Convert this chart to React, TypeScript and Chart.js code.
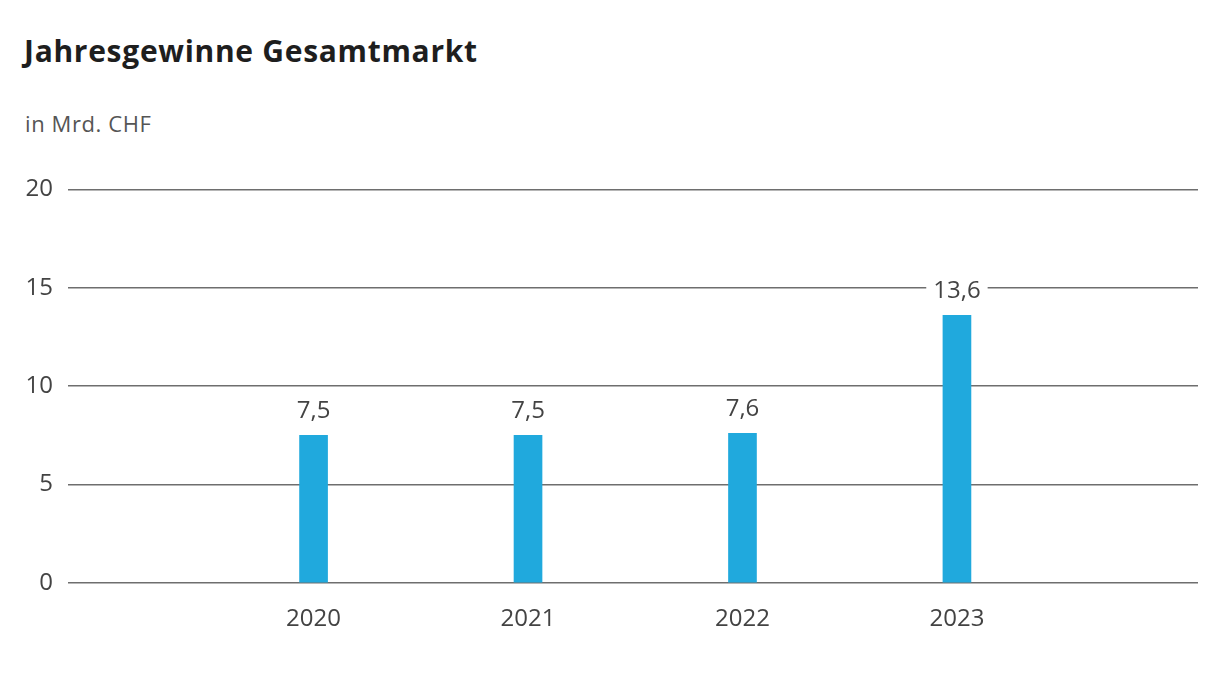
import * as React from 'react';
import { Chart, registerables } from 'chart.js';

Chart.register(...registerables);

// Jahresgewinne Gesamtmarkt, in Mrd. CHF
const years = [2020, 2021, 2022, 2023];
const gewinne = [7.5, 7.5, 7.6, 13.6];
const yTicks = [0, 5, 10, 15, 20];

const FONT = '"Open Sans", "Noto Sans", sans-serif';
const BAR_BLUE = '#20a9dd';
const TEXT_GREY = '#434343';

// schreibt die Werte über die Balken, mit weissem Hintergrund über dem Gitter
const valueLabels = {
    id: 'valueLabels',
    afterDatasetsDraw(chart: Chart) {
        const ctx = chart.ctx;
        const meta = chart.getDatasetMeta(0);
        ctx.save();
        ctx.font = '24px ' + FONT;
        ctx.textAlign = 'center';
        ctx.textBaseline = 'middle';
        meta.data.forEach((bar: any, i: number) => {
            const text = String(gewinne[i]).replace('.', ',');
            const w = ctx.measureText(text).width + 14;
            const y = bar.y - 24;
            ctx.fillStyle = '#ffffff';
            ctx.fillRect(bar.x - w / 2, y - 13, w, 26);
            ctx.fillStyle = TEXT_GREY;
            ctx.fillText(text, bar.x, y);
        });
        ctx.restore();
    },
};

function GewinnChart() {
    const canvasRef = React.useRef<HTMLCanvasElement | null>(null);

    React.useEffect(() => {
        if (!canvasRef.current) return;
        const chart = new Chart(canvasRef.current, {
            type: 'bar',
            data: {
                datasets: [
                    {
                        data: years.map((y, i) => ({ x: y, y: gewinne[i] })),
                        backgroundColor: BAR_BLUE,
                        barThickness: 28,
                    },
                ],
            },
            options: {
                animation: false,
                responsive: false,
                maintainAspectRatio: false,
                layout: { padding: { top: 29, right: 27, left: 0, bottom: 0 } },
                plugins: {
                    legend: { display: false },
                    tooltip: { enabled: false },
                },
                scales: {
                    x: {
                        type: 'linear',
                        offset: false,
                        min: 2018.855,
                        max: 2024.124,
                        afterBuildTicks: (scale: any) => {
                            scale.ticks = years.map((v) => ({ value: v }));
                        },
                        afterFit: (scale: any) => {
                            scale.height = 67;
                        },
                        grid: { display: false, offset: false },
                        border: { display: false },
                        ticks: {
                            autoSkip: false,
                            maxRotation: 0,
                            padding: 14,
                            color: TEXT_GREY,
                            font: { family: FONT, size: 24 },
                            callback: (v: any) => String(v),
                        },
                    },
                    y: {
                        min: 0,
                        max: 20,
                        afterBuildTicks: (scale: any) => {
                            scale.ticks = yTicks.map((v) => ({ value: v }));
                        },
                        afterFit: (scale: any) => {
                            scale.width = 68;
                        },
                        grid: {
                            color: '#6e6e6e',
                            lineWidth: 1.5,
                            drawTicks: false,
                        },
                        border: { display: false },
                        ticks: {
                            padding: 15,
                            color: TEXT_GREY,
                            font: { family: FONT, size: 24 },
                        },
                    },
                },
            },
            plugins: [valueLabels],
        });

        return () => {
            chart.destroy();
        };
    }, []);

    return (
        <canvas
            ref={canvasRef}
            width={1225}
            height={490}
            style={{ position: 'absolute', left: 0, top: 160, width: 1225, height: 490 }}
        />
    );
}

const App = () => {
    React.useEffect(() => {
        document.body.style.margin = '0';
    }, []);

    return (
        <div style={{ position: 'relative', width: 1225, height: 674, background: '#fff', fontFamily: FONT }}>
            <div
                style={{
                    position: 'absolute',
                    left: 24,
                    top: 36,
                    fontSize: 30,
                    lineHeight: '29px',
                    fontWeight: 700,
                    letterSpacing: 0.7,
                    color: '#1e1e1e',
                    whiteSpace: 'nowrap',
                }}
            >
                Jahresgewinne Gesamtmarkt
            </div>
            <div
                style={{
                    position: 'absolute',
                    left: 25,
                    top: 112,
                    fontSize: 22,
                    lineHeight: '22px',
                    letterSpacing: 0.6,
                    color: '#555555',
                    whiteSpace: 'nowrap',
                }}
            >
                in Mrd. CHF
            </div>
            <GewinnChart />
        </div>
    );
};

export default App;
